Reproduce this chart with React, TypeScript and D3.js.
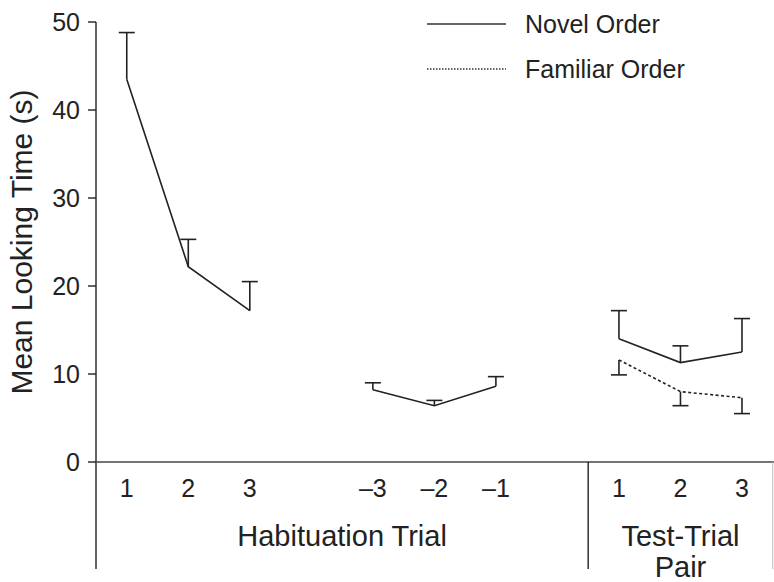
import React from "react";
import * as d3 from "d3";

const habPositions = [1, 2, 3, 5, 6, 7];
const habLabels = ["1", "2", "3", "–3", "–2", "–1"];
const testPositions = [9, 10, 11];
const testLabels = ["1", "2", "3"];

const novelHabEarly = [43.5, 22.2, 17.2];
const novelHabEarlyErr = [5.3, 3.1, 3.3];
const novelHabLate = [8.2, 6.4, 8.6];
const novelHabLateErr = [0.8, 0.6, 1.1];
const novelTest = [14.0, 11.3, 12.5];
const novelTestErr = [3.2, 1.9, 3.8];
const familiarTest = [11.6, 8.0, 7.3];
const familiarTestErr = [1.7, 1.6, 1.8];

const yTicks = [0, 10, 20, 30, 40, 50];
const legendItems = ["Novel Order", "Familiar Order"];

const W = 774;
const H = 582;
const FONT = "'Liberation Sans', Arial, Helvetica, sans-serif";
const INK = "#222";

export default function App() {
  const x = d3.scaleLinear().domain([0.5, 11.5]).range([96, 772.75]);
  const y = d3.scaleLinear().domain([0, 50]).range([462, 22]);
  const line = d3
    .line<[number, number]>()
    .x((d) => x(d[0]))
    .y((d) => y(d[1]));

  const zip = (xs: number[], vs: number[]) =>
    xs.map((p, i) => [p, vs[i]] as [number, number]);

  const segments = [
    { pts: zip(habPositions.slice(0, 3), novelHabEarly), err: novelHabEarlyErr, dir: 1, dash: false },
    { pts: zip(habPositions.slice(3), novelHabLate), err: novelHabLateErr, dir: 1, dash: false },
    { pts: zip(testPositions, novelTest), err: novelTestErr, dir: 1, dash: false },
    { pts: zip(testPositions, familiarTest), err: familiarTestErr, dir: -1, dash: true },
  ];

  const capHalf = 8;
  const baseY = y(0);
  const sepX = x(8.5);
  const rightX = x(11.5);

  return (
    <svg
      width={W}
      height={H}
      style={{ position: "absolute", left: 0, top: 0, background: "#fff" }}
      fontFamily={FONT}
    >
      {/* y axis */}
      <line x1={x(0.5)} x2={x(0.5)} y1={y(50)} y2={569} stroke={INK} strokeWidth={1.4} />
      {yTicks.map((t) => (
        <g key={t}>
          <line x1={x(0.5) - 8} x2={x(0.5)} y1={y(t)} y2={y(t)} stroke={INK} strokeWidth={1.4} />
          <text x={80} y={y(t)} dy="0.35em" textAnchor="end" fontSize={25} fill={INK}>
            {t}
          </text>
        </g>
      ))}
      <text
        transform={`translate(32,${(y(0) + y(50)) / 2}) rotate(-90)`}
        textAnchor="middle"
        fontSize={30}
        fill={INK}
      >
        Mean Looking Time (s)
      </text>

      {/* x axis */}
      <line x1={x(0.5)} x2={W} y1={baseY} y2={baseY} stroke="#444" strokeWidth={1.6} />
      <line x1={sepX} x2={sepX} y1={baseY} y2={569} stroke={INK} strokeWidth={1.4} />
      <line x1={rightX} x2={rightX} y1={baseY} y2={569} stroke="#bbb" strokeWidth={1} />
      {habPositions.map((p, i) => (
        <text key={"h" + i} x={x(p)} y={497} textAnchor="middle" fontSize={25} fill={INK}>
          {habLabels[i]}
        </text>
      ))}
      {testPositions.map((p, i) => (
        <text key={"t" + i} x={x(p)} y={497} textAnchor="middle" fontSize={25} fill={INK}>
          {testLabels[i]}
        </text>
      ))}
      <text x={(x(0.5) + sepX) / 2} y={546} textAnchor="middle" fontSize={29} fill={INK}>
        Habituation Trial
      </text>
      <text x={(sepX + rightX) / 2} y={546} textAnchor="middle" fontSize={29} fill={INK}>
        Test-Trial
      </text>
      <text x={(sepX + rightX) / 2} y={577} textAnchor="middle" fontSize={29} fill={INK}>
        Pair
      </text>

      {/* data */}
      {segments.map((s, si) => (
        <g key={si}>
          <path
            d={line(s.pts) || ""}
            fill="none"
            stroke={INK}
            strokeWidth={1.6}
            strokeDasharray={s.dash ? "3,2.5" : undefined}
          />
          {s.pts.map((pt, i) => {
            const cx = x(pt[0]);
            const y0 = y(pt[1]);
            const y1 = y(pt[1] + s.dir * s.err[i]);
            return (
              <g key={i}>
                <line x1={cx} x2={cx} y1={y0} y2={y1} stroke={INK} strokeWidth={1.6} />
                <line x1={cx - capHalf} x2={cx + capHalf} y1={y1} y2={y1} stroke={INK} strokeWidth={1.6} />
              </g>
            );
          })}
        </g>
      ))}

      {/* legend */}
      {legendItems.map((name, i) => (
        <g key={name} transform={`translate(0,${24 + i * 45})`}>
          <line
            x1={427}
            x2={506}
            y1={0}
            y2={0}
            stroke="#333"
            strokeWidth={i === 0 ? 1.6 : 1.3}
            strokeDasharray={i === 0 ? undefined : "1.5,1.5"}
          />
          <text x={525} y={0} dy="0.35em" fontSize={25} fill={INK}>
            {name}
          </text>
        </g>
      ))}
    </svg>
  );
}
